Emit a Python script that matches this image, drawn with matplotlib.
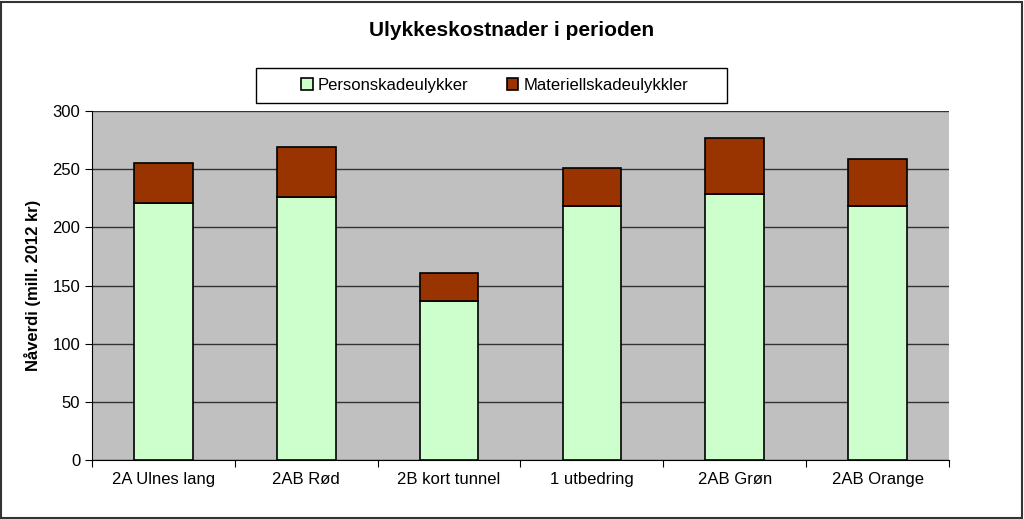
import numpy as np
import matplotlib
matplotlib.use('Agg')
import matplotlib.pyplot as plt
from matplotlib.patches import Rectangle

plt.rcParams['font.family'] = ['Liberation Sans', 'DejaVu Sans']

categories = ['2A Ulnes lang', '2AB Rød', '2B kort tunnel', '1 utbedring',
              '2AB Grøn', '2AB Orange']
person = [221, 226, 137, 218, 229, 218]
materiell = [34, 43, 24, 33, 48, 41]

fig = plt.figure(figsize=(10.24, 5.19), dpi=100)
fig.patch.set_facecolor('white')
# outer frame of the chart
fig.patches.append(Rectangle((0.001, 0.002), 0.997, 0.995, transform=fig.transFigure,
                             fill=False, edgecolor='#333333', linewidth=1.5))
# legend frame
fig.patches.append(Rectangle((256 / 1024, 1 - 103 / 519), 471 / 1024, 35 / 519,
                             transform=fig.transFigure, fill=True, facecolor='white',
                             edgecolor='black', linewidth=1.0))

ax = fig.add_axes([0.0898, 0.1137, 0.8370, 0.6724])
ax.set_facecolor('#C0C0C0')
x = np.arange(len(categories))
w = 0.41
b1 = ax.bar(x, person, w, color='#CCFFCC', edgecolor='black', linewidth=1.2,
            label='Personskadeulykker', zorder=3)
b2 = ax.bar(x, materiell, w, bottom=person, color='#993300', edgecolor='black',
            linewidth=1.2, label='Materiellskadeulykkler', zorder=3)

ax.set_xlim(-0.5, len(categories) - 0.5)
ax.set_ylim(0, 300)
ax.set_yticks(np.arange(0, 301, 50))
ax.yaxis.grid(True, color='#333333', linewidth=1.0, zorder=1)
ax.set_xticks(np.arange(-0.5, len(categories), 1.0), minor=False)
ax.set_xticklabels([])
ax.set_xticks(x, minor=True)
ax.set_xticklabels(categories, minor=True, fontsize=12)
ax.tick_params(axis='x', which='minor', length=0, pad=9)
ax.tick_params(axis='x', which='major', length=5, direction='out')
ax.tick_params(axis='y', labelsize=12, length=5, direction='out')
for s in ['top', 'right']:
    ax.spines[s].set_visible(False)
for s in ['left', 'bottom']:
    ax.spines[s].set_color('black')

ax.set_ylabel('Nåverdi (mill. 2012 kr)', fontsize=12, fontweight='bold', labelpad=8)

fig.text(0.5, 0.942, 'Ulykkeskostnader i perioden', ha='center', va='center',
         fontsize=15, fontweight='bold')

leg = fig.legend(handles=[b1, b2], loc='center', ncol=2,
                 bbox_to_anchor=(0.483, 1 - 85.5 / 519),
                 frameon=False, fontsize=12,
                 handlelength=0.7, handleheight=0.7, handletextpad=0.3,
                 columnspacing=2.3, borderpad=0.3)

fig.savefig('out.png', dpi=100)
